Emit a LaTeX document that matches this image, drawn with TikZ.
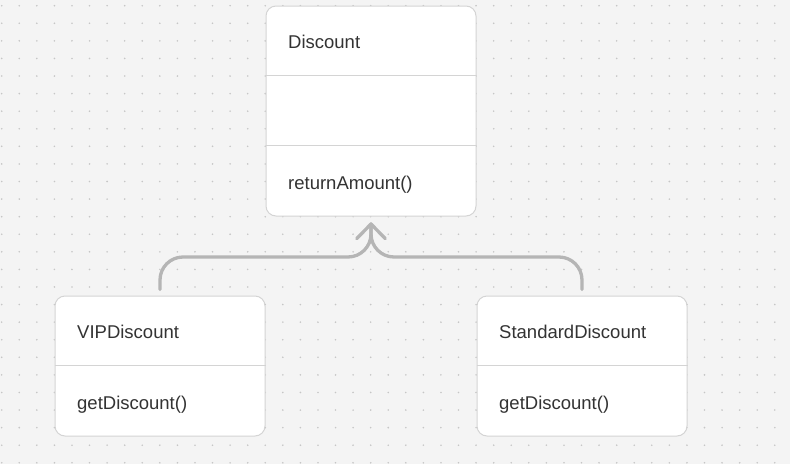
\documentclass[tikz,border=0pt]{standalone}
\usepackage{fontspec}
\setmainfont{Liberation Sans}
\definecolor{bg}{HTML}{F4F4F4}
\definecolor{dotc}{HTML}{C6C6C6}
\definecolor{boxline}{HTML}{D4D4D4}
\definecolor{connc}{HTML}{B5B5B5}
\definecolor{txt}{HTML}{333333}
\begin{document}
\begin{tikzpicture}[x=1pt,y=-1pt,
  box/.style={draw=boxline, fill=white, rounded corners=10pt, line width=1pt, minimum width=210pt, inner sep=0pt},
  divider/.style={draw=boxline, line width=1pt},
  lbl/.style={anchor=base west, text=txt, font=\fontsize{18.5}{21}\selectfont, inner sep=0pt},
  conn/.style={draw=connc, line width=3.3pt, line cap=round, line join=round, rounded corners=23pt}]
\fill[bg] (0,0) rectangle (790,464);
\useasboundingbox (0,0) rectangle (790,464);
\foreach \i in {0,...,44} \foreach \j in {0,...,26} \fill[dotc] (1.7+17.57*\i, 5.7+17.58*\j) circle (0.9pt);
% boxes
\node[box, minimum height=210pt] (disc) at (371,111) {};
\node[box, minimum height=140pt] (vip) at (160,366) {};
\node[box, minimum height=140pt] (std) at (582,366) {};
% dividers
\draw[divider] (disc.west |- 0,75.3) -- (disc.east |- 0,75.3);
\draw[divider] (disc.west |- 0,145.7) -- (disc.east |- 0,145.7);
\draw[divider] (vip.west |- 0,365.5) -- (vip.east |- 0,365.5);
\draw[divider] (std.west |- 0,365.5) -- (std.east |- 0,365.5);
% labels
\node[lbl] (discname) at (288,48.3) {Discount};
\node[lbl] (discop) at (288,189.3) {returnAmount()};
\node[lbl] (vipname) at (77,338.3) {VIPDiscount};
\node[lbl] (vipop) at (77,409.3) {getDiscount()};
\node[lbl] (stdname) at (499,338.3) {StandardDiscount};
\node[lbl] (stdop) at (499,409.3) {getDiscount()};
% connectors
\coordinate (tip) at ([yshift=-7.5pt]disc.south);
\draw[conn] ([yshift=6pt]vip.north) |- (tip |- 0,257) -- (tip);
\draw[conn] ([yshift=6pt]std.north) |- (tip |- 0,257) -- (tip);
\draw[conn, rounded corners=0pt] ([xshift=-14.3pt,yshift=-14.6pt]tip) -- (tip) -- ([xshift=14.3pt,yshift=-14.6pt]tip);
\end{tikzpicture}
\end{document}
